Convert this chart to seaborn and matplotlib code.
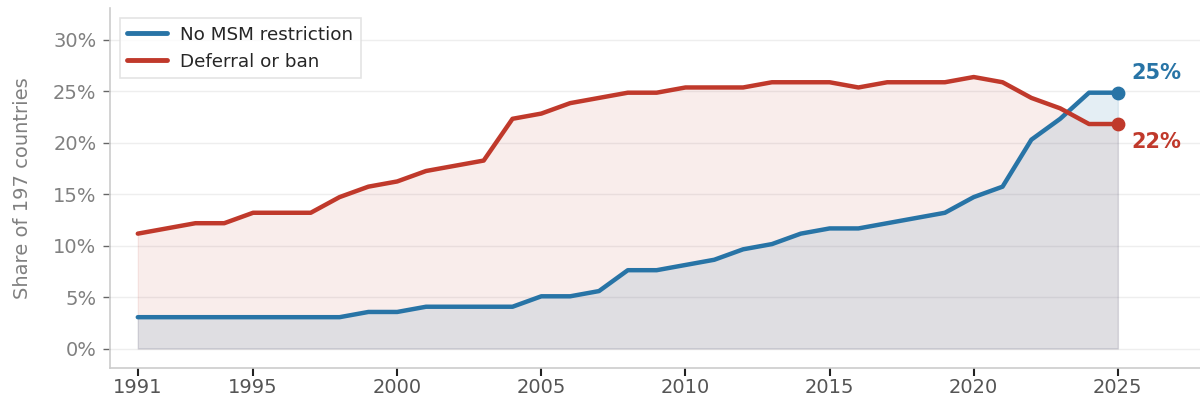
import matplotlib
matplotlib.use("Agg")
import matplotlib.pyplot as plt
import matplotlib.ticker as mtick
import numpy as np
import pandas as pd
import seaborn as sns

# counts out of 197 countries
N_COUNTRIES = 197
years = list(range(1991, 2026))
no_restriction = [6, 6, 6, 6, 6, 6, 6, 6, 7, 7,
                  8, 8, 8, 8, 10, 10, 11, 15, 15, 16,
                  17, 19, 20, 22, 23, 23, 24, 25, 26, 29,
                  31, 40, 44, 49, 49]
deferral_ban = [22, 23, 24, 24, 26, 26, 26, 29, 31, 32,
                34, 35, 36, 44, 45, 47, 48, 49, 49, 50,
                50, 50, 51, 51, 51, 50, 51, 51, 51, 52,
                51, 48, 46, 43, 43]
series_names = ["No MSM restriction", "Deferral or ban"]
colors = ["#2874a6", "#c0392b"]

share_none = np.array(no_restriction) / N_COUNTRIES
share_ban = np.array(deferral_ban) / N_COUNTRIES

df = pd.DataFrame({
    "year": years * 2,
    "share": np.concatenate([share_none, share_ban]),
    "policy": [series_names[0]] * len(years) + [series_names[1]] * len(years),
})

sns.set_theme(style="white")
plt.rcParams["font.family"] = ["DejaVu Sans"]

fig, ax = plt.subplots(figsize=(12, 4.04), dpi=100)
fig.subplots_adjust(left=0.092, right=1.0, bottom=0.089, top=0.98)

ax.fill_between(years, 0, share_ban, color=colors[1], alpha=0.09, lw=1)
ax.fill_between(years, 0, share_none, color=colors[0], alpha=0.12, lw=1)

sns.lineplot(data=df, x="year", y="share", hue="policy", palette=colors,
             hue_order=series_names, linewidth=3.2, ax=ax)

# end points and labels
ax.scatter([years[-1]], [share_none[-1]], s=80, color=colors[0], zorder=5)
ax.scatter([years[-1]], [share_ban[-1]], s=80, color=colors[1], zorder=5)
ax.annotate(f"{share_none[-1]:.0%}", (years[-1], share_none[-1]),
            xytext=(10, 14), textcoords="offset points", color=colors[0],
            fontsize=15, fontweight="bold", va="center")
ax.annotate(f"{share_ban[-1]:.0%}", (years[-1], share_ban[-1]),
            xytext=(10, -13), textcoords="offset points", color=colors[1],
            fontsize=15, fontweight="bold", va="center")

ax.set_xlim(1990.05, 2027.85)
ax.set_ylim(-0.019, 0.331)
ax.set_xticks([1991, 1995, 2000, 2005, 2010, 2015, 2020, 2025])
ax.set_yticks(np.arange(0, 0.31, 0.05))
ax.yaxis.set_major_formatter(mtick.PercentFormatter(1.0, decimals=0))

ax.set_xlabel("")
ax.set_ylabel("Share of 197 countries", fontsize=14, color="#808080", labelpad=15)
ax.grid(axis="y", color="#eeeeee", linewidth=1)
ax.grid(axis="x", visible=False)

for side in ["top", "right"]:
    ax.spines[side].set_visible(False)
for side in ["left", "bottom"]:
    ax.spines[side].set_color("#cccccc")
    ax.spines[side].set_linewidth(1.2)

ax.tick_params(axis="y", which="both", left=True, length=5, width=1,
               color="#666666", labelsize=14, labelcolor="#808080", pad=5)
ax.tick_params(axis="x", which="both", bottom=True, length=6, width=1.5,
               color="#222222", labelsize=14, labelcolor="#555555", pad=1)

leg = ax.legend(loc="upper left", fontsize=13.2, frameon=True, fancybox=False,
                handlelength=2.2, handletextpad=0.7, borderpad=0.4,
                bbox_to_anchor=(0.0, 0.997))
leg.get_frame().set_edgecolor("#dddddd")
leg.get_frame().set_linewidth(1.2)
leg.set_title(None)
for line in leg.get_lines():
    line.set_linewidth(3.5)

fig.savefig("out.png", dpi=100)
